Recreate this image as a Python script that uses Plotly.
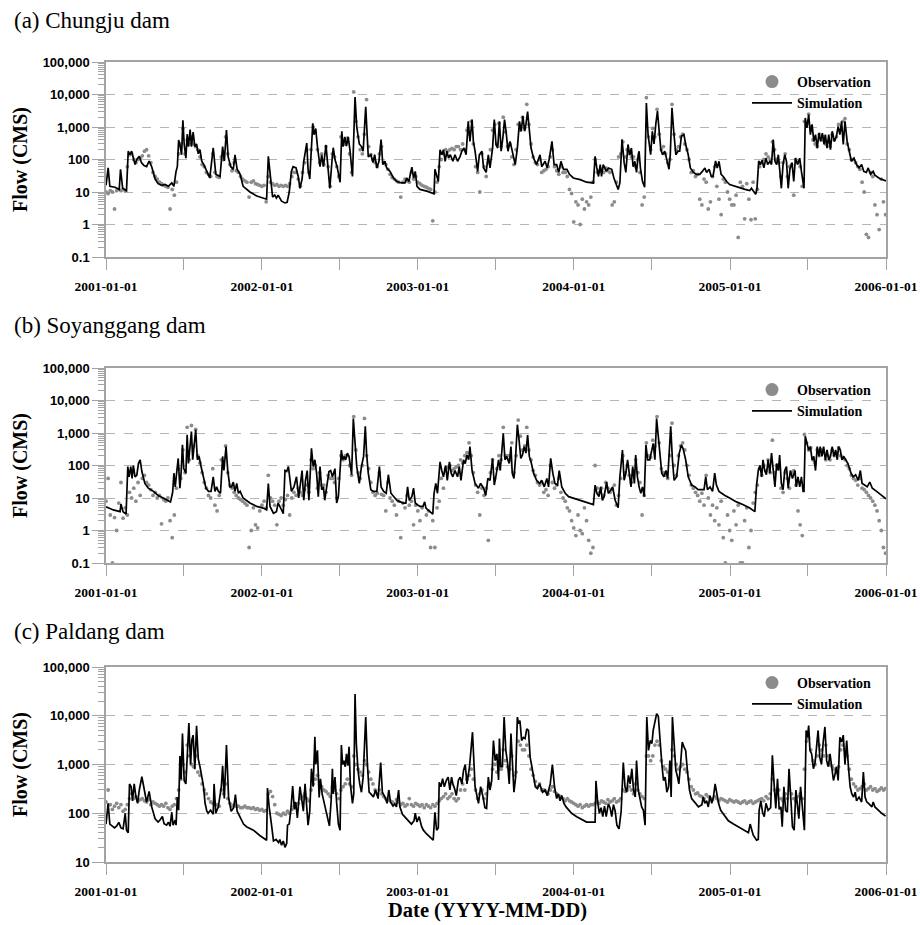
import math
import pandas as pd
import plotly.graph_objects as go

START = pd.Timestamp("2001-01-01")
END = pd.Timestamp("2006-01-01")
OBS_STEP_DAYS = 5  # observed flows listed every 5 days from START

# ---------------- (a) Chungju dam ----------------
# simulated flow: (days since 2001-01-01, flow in CMS)
chungju_sim = [
    (0, 16), (5, 55), (9, 15), (21, 14), (31, 12), (34, 50), (39, 13), (48, 11), (52, 180), (56, 140),
    (60, 180), (64, 110), (68, 70), (72, 100), (78, 125), (83, 80), (89, 65), (95, 60), (101, 90), (107, 60),
    (115, 25), (122, 18), (130, 16), (138, 17), (146, 15), (154, 19), (159, 15), (164, 43), (167, 60), (170, 400),
    (173, 280), (177, 140), (180, 1600), (183, 300), (187, 110), (190, 600), (193, 250), (197, 830), (200, 250), (204, 700),
    (208, 250), (212, 300), (216, 150), (220, 200), (224, 90), (229, 70), (236, 43), (243, 27), (251, 230), (257, 35),
    (267, 30), (273, 250), (277, 90), (282, 800), (286, 120), (292, 60), (298, 50), (302, 140), (307, 50), (314, 35),
    (321, 15), (337, 10), (353, 7.5), (368, 6.5), (376, 6), (380, 125), (385, 35), (390, 7), (395, 8), (399, 6.5),
    (403, 8), (411, 5.2), (419, 4.6), (424, 4.8), (429, 10), (434, 43), (438, 60), (445, 55), (450, 30), (454, 13),
    (459, 25), (463, 90), (470, 320), (473, 50), (477, 25), (484, 1300), (487, 580), (491, 900), (495, 250), (501, 60),
    (505, 140), (509, 60), (515, 280), (519, 60), (524, 13), (530, 130), (532, 230), (536, 100), (541, 60), (548, 20),
    (552, 740), (555, 250), (559, 500), (563, 260), (567, 500), (571, 200), (577, 30), (583, 8300), (587, 1000), (593, 300),
    (598, 250), (602, 180), (608, 4200), (614, 120), (620, 140), (625, 80), (629, 140), (634, 55), (639, 88), (644, 410),
    (648, 70), (653, 88), (657, 55), (665, 43), (673, 27), (681, 21), (692, 19), (700, 19), (704, 27), (709, 21),
    (716, 58), (720, 27), (724, 43), (728, 15), (735, 12), (751, 10.6), (763, 9.5), (768, 8.8), (770, 50), (774, 35),
    (778, 21), (782, 200), (786, 140), (790, 200), (794, 88), (798, 180), (802, 110), (806, 140), (812, 88), (817, 140),
    (823, 88), (829, 125), (833, 180), (838, 225), (843, 140), (848, 1500), (852, 360), (857, 1700), (860, 360), (864, 180),
    (870, 43), (874, 140), (880, 180), (884, 55), (890, 40), (895, 140), (899, 55), (905, 225), (909, 1700), (913, 290),
    (917, 225), (921, 1500), (925, 180), (929, 460), (933, 1700), (937, 650), (941, 180), (946, 360), (952, 140), (958, 70),
    (963, 225), (968, 1500), (972, 740), (976, 2150), (980, 740), (983, 1180), (987, 3000), (991, 740), (995, 225), (1001, 110),
    (1008, 70), (1016, 140), (1020, 60), (1028, 88), (1033, 55), (1038, 110), (1044, 360), (1049, 70), (1055, 70), (1060, 40),
    (1065, 88), (1071, 50), (1079, 50), (1085, 35), (1094, 27), (1110, 24), (1125, 20), (1141, 19), (1145, 125), (1149, 55),
    (1153, 30), (1157, 70), (1160, 30), (1164, 70), (1171, 43), (1176, 55), (1184, 50), (1189, 27), (1199, 12), (1203, 19),
    (1208, 420), (1213, 80), (1217, 40), (1222, 290), (1226, 140), (1230, 225), (1234, 60), (1238, 88), (1242, 40), (1246, 140),
    (1248, 180), (1251, 55), (1256, 21), (1261, 14), (1265, 5500), (1269, 580), (1275, 140), (1279, 740), (1283, 300), (1287, 1200),
    (1291, 3100), (1295, 740), (1299, 200), (1303, 140), (1308, 180), (1312, 110), (1318, 50), (1321, 140), (1325, 3900), (1329, 740),
    (1334, 140), (1339, 180), (1343, 180), (1347, 520), (1353, 580), (1357, 290), (1363, 140), (1368, 55), (1375, 40), (1382, 35),
    (1390, 35), (1396, 43), (1402, 55), (1406, 40), (1412, 50), (1417, 30), (1421, 30), (1427, 90), (1431, 55), (1435, 88),
    (1440, 35), (1445, 30), (1453, 21), (1460, 17), (1472, 15), (1484, 13), (1496, 12), (1507, 11), (1511, 13), (1515, 11),
    (1521, 8.5), (1524, 13), (1528, 90), (1532, 70), (1536, 95), (1540, 55), (1545, 110), (1549, 70), (1554, 88), (1558, 70),
    (1562, 410), (1566, 88), (1570, 70), (1574, 140), (1578, 43), (1581, 13), (1585, 70), (1589, 140), (1593, 88), (1597, 13),
    (1601, 50), (1606, 80), (1610, 21), (1614, 110), (1619, 70), (1624, 110), (1628, 43), (1632, 17), (1634, 13), (1637, 1900),
    (1641, 940), (1645, 2400), (1649, 580), (1653, 1200), (1657, 360), (1661, 580), (1665, 225), (1669, 650), (1673, 360), (1677, 650),
    (1681, 290), (1684, 580), (1688, 225), (1692, 580), (1696, 200), (1700, 740), (1705, 360), (1710, 520), (1714, 1050), (1718, 580),
    (1722, 1500), (1726, 290), (1730, 1500), (1735, 360), (1740, 180), (1745, 88), (1751, 110), (1757, 70), (1763, 55), (1769, 70),
    (1774, 43), (1780, 40), (1784, 55), (1790, 35), (1796, 43), (1800, 33), (1811, 26), (1823, 23), (1826, 22),
]
chungju_obs_flow = [
    10, 9, 11, 10, 3, 11, 12, 11, 12, 11, 60, 140, 150, 100, 80, 100, 110, 130, 180, 200,
    130, 80, 40, 30, 25, 20, 18, 16, 15, 14, 3, 12, 8, 20, 150, 300, 900, 150, 400, 300,
    500, 300, 250, 200, 120, 70, 60, 40, 35, 30, 150, 40, 30, 28, 120, 100, 500, 150, 70, 45,
    80, 45, 40, 30, 25, 22, 20, 7, 20, 22, 18, 17, 16, 15, 16, 5, 30, 20, 18, 16,
    17, 15, 16, 15, 16, 15, 18, 30, 40, 40, 25, 15, 40, 80, 200, 40, 200, 1000, 700, 200,
    80, 150, 70, 250, 60, 15, 150, 120, 60, 30, 500, 300, 300, 450, 150, 40, 12000, 1500, 500, 200,
    150, 600, 7000, 250, 140, 100, 80, 60, 150, 250, 80, 70, 50, 35, 28, 25, 22, 20, 7, 20,
    25, 22, 20, 40, 25, 30, 20, 18, 16, 15, 14, 13, 12, 1.3, 10, 20, 60, 100, 150, 200,
    180, 200, 220, 200, 250, 250, 200, 300, 200, 800, 600, 1500, 300, 60, 40, 10, 150, 60, 30, 80,
    200, 800, 1200, 300, 1300, 250, 2000, 700, 250, 300, 120, 70, 200, 1200, 800, 2000, 900, 5000, 1200, 300,
    120, 80, 70, 100, 40, 45, 50, 60, 120, 200, 60, 45, 35, 60, 40, 40, 30, 12, 9, 1.2,
    5, 4, 1.0, 6, 3, 5, 4, 7, 20, 100, 40, 45, 50, 40, 55, 45, 40, 4, 5, 20,
    120, 150, 350, 120, 200, 150, 120, 120, 60, 100, 40, 4, 7, 8000, 500, 200, 900, 500, 3500, 600,
    200, 250, 150, 80, 100, 5000, 600, 200, 250, 500, 600, 300, 200, 100, 40, 45, 30, 35, 6, 4,
    25, 20, 3, 5, 30, 60, 15, 6, 2, 25, 20, 10, 6, 4, 4, 8, 0.4, 20, 15, 1.5,
    18, 6, 1.4, 20, 1.5, 12, 60, 80, 100, 150, 120, 100, 350, 200, 100, 80, 30, 80, 150, 30,
    60, 70, 8, 100, 80, 60, 15, 1500, 1200, 2500, 1000, 400, 300, 250, 600, 400, 500, 300, 350, 250,
    600, 400, 500, 1200, 800, 1500, 1800, 300, 200, 100, 100, 80, 60, 50, 20, 10, 0.5, 0.4, 40, 30,
    4, 2, 0.7, 25, 5, 2,
]

# ---------------- (b) Soyanggang dam ----------------
soyang_sim = [
    (0, 5.4), (17, 4.3), (33, 3.8), (35, 6.5), (40, 3.8), (47, 3.2), (51, 93), (54, 45), (58, 93), (61, 40),
    (64, 100), (68, 45), (72, 50), (76, 115), (80, 150), (84, 65), (91, 28), (99, 20), (111, 16), (122, 12),
    (134, 10), (146, 8.5), (151, 7.5), (156, 15), (159, 58), (162, 22), (165, 45), (169, 165), (173, 20), (176, 65),
    (179, 430), (182, 80), (187, 58), (190, 880), (193, 115), (197, 480), (200, 1100), (203, 150), (207, 690), (210, 1250),
    (214, 150), (218, 190), (222, 100), (228, 45), (234, 20), (240, 16), (246, 16), (251, 45), (255, 16), (259, 22),
    (263, 16), (268, 14), (273, 190), (276, 70), (281, 380), (285, 70), (290, 22), (294, 22), (298, 31), (302, 16),
    (306, 28), (310, 14), (314, 16), (321, 10), (329, 8.5), (337, 7), (353, 5.5), (368, 4.9), (376, 4.3), (380, 28),
    (384, 5.5), (392, 3.4), (399, 3.8), (403, 7), (411, 4.3), (415, 3.3), (419, 70), (423, 65), (427, 93), (430, 45),
    (434, 16), (440, 22), (446, 45), (451, 10), (454, 22), (459, 70), (463, 8.5), (467, 35), (471, 70), (475, 8.5),
    (481, 340), (485, 93), (489, 150), (493, 58), (497, 11), (501, 93), (505, 18), (509, 22), (512, 8.5), (516, 20),
    (522, 65), (526, 70), (530, 45), (536, 80), (540, 7), (544, 11), (548, 58), (551, 300), (554, 150), (557, 190),
    (561, 150), (565, 240), (569, 190), (575, 52), (579, 2800), (583, 380), (587, 93), (593, 28), (598, 93), (603, 190),
    (607, 1600), (610, 240), (614, 58), (620, 18), (626, 16), (634, 16), (640, 93), (644, 22), (650, 16), (656, 14),
    (661, 52), (667, 14), (673, 11), (681, 8.5), (689, 7.6), (696, 7), (702, 7), (706, 22), (710, 8.5), (716, 11),
    (720, 20), (724, 7), (729, 6.2), (735, 5.5), (742, 5.5), (746, 7.6), (749, 4.9), (759, 3.8), (765, 3.2), (768, 14),
    (772, 28), (776, 14), (782, 130), (786, 70), (790, 45), (795, 100), (799, 35), (804, 130), (808, 58), (812, 45),
    (817, 70), (823, 45), (827, 93), (831, 35), (837, 150), (841, 115), (845, 210), (849, 150), (852, 380), (857, 70),
    (864, 28), (872, 20), (877, 28), (884, 20), (889, 12), (894, 40), (899, 35), (905, 165), (909, 25), (915, 70),
    (919, 150), (923, 70), (927, 240), (930, 980), (934, 150), (938, 190), (944, 115), (948, 380), (951, 58), (955, 40),
    (959, 190), (963, 1800), (967, 610), (971, 165), (975, 210), (979, 380), (983, 240), (987, 870), (991, 190), (995, 130),
    (1001, 58), (1008, 35), (1015, 28), (1020, 35), (1026, 22), (1032, 40), (1036, 22), (1041, 165), (1046, 58), (1051, 28),
    (1057, 25), (1061, 70), (1067, 22), (1075, 14), (1083, 11), (1094, 10), (1110, 8.5), (1125, 7.3), (1141, 6.3), (1145, 25),
    (1149, 14), (1154, 11), (1158, 22), (1162, 8.5), (1166, 11), (1172, 31), (1176, 14), (1182, 18), (1186, 22), (1192, 8.5),
    (1199, 5), (1203, 45), (1209, 300), (1213, 35), (1217, 58), (1221, 150), (1225, 45), (1229, 22), (1233, 93), (1237, 28),
    (1240, 210), (1244, 45), (1248, 22), (1252, 14), (1256, 22), (1260, 11), (1264, 430), (1268, 150), (1273, 150), (1277, 300),
    (1281, 480), (1285, 150), (1289, 2800), (1293, 770), (1297, 150), (1301, 58), (1306, 45), (1311, 70), (1315, 40), (1318, 150),
    (1322, 1600), (1326, 150), (1330, 35), (1336, 45), (1342, 240), (1347, 430), (1351, 330), (1357, 150), (1363, 45), (1371, 25),
    (1379, 22), (1386, 18), (1394, 18), (1400, 18), (1404, 45), (1408, 18), (1414, 22), (1420, 16), (1425, 58), (1429, 25),
    (1435, 16), (1441, 14), (1449, 12), (1460, 10), (1476, 7.6), (1492, 6.2), (1507, 4.9), (1519, 3.8), (1523, 25), (1527, 70),
    (1531, 100), (1535, 45), (1538, 150), (1542, 70), (1546, 52), (1550, 150), (1554, 58), (1558, 240), (1562, 70), (1566, 22),
    (1570, 115), (1574, 70), (1577, 210), (1581, 28), (1585, 18), (1589, 70), (1593, 93), (1597, 20), (1602, 70), (1607, 40),
    (1613, 70), (1616, 22), (1620, 45), (1624, 22), (1628, 45), (1632, 16), (1634, 16), (1637, 800), (1641, 480), (1645, 300),
    (1649, 380), (1653, 150), (1657, 190), (1661, 70), (1665, 380), (1669, 190), (1672, 380), (1676, 190), (1680, 380), (1684, 150),
    (1688, 300), (1692, 150), (1696, 190), (1700, 380), (1704, 190), (1708, 300), (1712, 150), (1715, 380), (1719, 300), (1723, 150),
    (1727, 190), (1731, 150), (1737, 115), (1744, 58), (1749, 45), (1755, 52), (1761, 35), (1766, 70), (1770, 28), (1776, 25),
    (1782, 22), (1788, 31), (1794, 20), (1804, 16), (1815, 12), (1826, 9.5),
]
soyang_obs_flow = [
    8, 40, 3, 0.1, 2.5, 1, 7, 30, 2.4, 5, 3, 15, 10, 20, 8, 30, 12, 40, 50, 30,
    25, 18, 12, 15, 10, 12, 1.6, 9, 8, 10, 2, 0.6, 3, 20, 80, 40, 300, 60, 1500, 150,
    1700, 400, 1300, 200, 120, 60, 30, 20, 12, 10, 80, 6, 4, 12, 150, 100, 400, 60, 25, 20,
    15, 12, 10, 9, 8, 7, 6, 0.3, 1, 5, 1.5, 1.2, 4, 6, 8, 5, 50, 10, 8, 6,
    1.5, 8, 10, 6, 9, 12, 3, 10, 15, 12, 20, 15, 12, 18, 25, 15, 150, 80, 100, 20,
    60, 25, 25, 15, 50, 40, 40, 30, 10, 40, 200, 150, 200, 200, 100, 50, 3200, 300, 60, 40,
    100, 2800, 200, 80, 30, 15, 12, 14, 60, 13, 12, 4, 30, 10, 8, 6, 3, 8, 0.6, 7,
    5, 12, 6, 8, 1.5, 6, 4, 2, 5, 0.6, 3, 4, 0.3, 2, 0.3, 5, 8, 40, 20, 80,
    90, 100, 70, 80, 90, 100, 150, 120, 200, 250, 500, 200, 60, 25, 15, 3, 20, 12, 20, 0.5,
    60, 150, 40, 80, 200, 150, 1500, 200, 200, 150, 500, 60, 200, 2500, 800, 300, 400, 1500, 300, 150,
    70, 50, 30, 25, 30, 15, 18, 12, 100, 30, 20, 25, 40, 15, 10, 8, 5, 4, 2, 1.2,
    0.7, 3, 1, 0.8, 5, 2, 0.5, 0.2, 0.3, 100, 20, 15, 20, 12, 30, 20, 15, 18, 25, 6,
    12, 40, 200, 60, 100, 50, 30, 70, 150, 60, 30, 3, 12, 500, 200, 180, 600, 400, 3200, 500,
    80, 60, 50, 40, 200, 2000, 100, 50, 200, 400, 500, 300, 100, 50, 25, 20, 15, 12, 8, 14,
    6, 50, 10, 3, 6, 2, 5, 1.5, 8, 0.6, 0.1, 3, 1, 0.5, 4, 1.5, 6, 0.1, 0.1, 2,
    5, 0.3, 1, 7, 15, 25, 80, 50, 100, 70, 150, 60, 600, 60, 100, 80, 20, 15, 60, 40,
    20, 60, 70, 25, 4, 1.5, 0.7, 900, 500, 300, 350, 150, 120, 300, 200, 300, 250, 150, 200, 150,
    300, 200, 250, 350, 200, 180, 150, 100, 80, 50, 40, 35, 25, 40, 20, 18, 15, 12, 10, 8,
    6, 4, 2, 1, 0.3, 0.2,
]

# ---------------- (c) Paldang dam ----------------
paldang_sim = [
    (0, 60), (5, 160), (9, 60), (15, 55), (20, 50), (25, 55), (30, 65), (35, 50), (40, 48), (45, 100),
    (48, 45), (52, 40), (55, 400), (59, 350), (62, 180), (66, 400), (70, 220), (74, 160), (78, 300), (84, 560),
    (88, 350), (92, 200), (95, 170), (101, 280), (107, 135), (115, 77), (122, 66), (126, 72), (132, 86), (136, 61),
    (142, 57), (146, 66), (150, 54), (154, 105), (157, 57), (162, 72), (164, 57), (167, 215), (170, 115), (173, 1500),
    (176, 500), (179, 4300), (183, 470), (187, 400), (191, 1650), (194, 7100), (198, 1000), (201, 3200), (204, 4000), (208, 800),
    (212, 6200), (216, 1300), (220, 900), (224, 600), (228, 370), (232, 160), (236, 110), (239, 100), (245, 115), (251, 95),
    (253, 400), (257, 100), (263, 135), (270, 350), (273, 940), (277, 200), (282, 2500), (287, 210), (293, 110), (299, 130),
    (303, 240), (307, 110), (314, 80), (322, 60), (329, 53), (345, 45), (360, 35), (376, 28), (378, 330), (382, 135),
    (388, 53), (392, 27), (398, 29), (404, 25), (407, 29), (411, 22), (415, 27), (419, 20), (423, 24), (425, 57),
    (429, 60), (433, 125), (437, 360), (441, 120), (444, 170), (448, 80), (454, 350), (458, 200), (462, 110), (466, 400),
    (469, 200), (473, 57), (477, 110), (481, 820), (485, 350), (489, 3700), (491, 1000), (495, 1950), (499, 210), (502, 510),
    (506, 250), (510, 170), (514, 130), (518, 80), (523, 55), (527, 180), (530, 820), (532, 250), (536, 550), (540, 160),
    (544, 60), (548, 45), (551, 2500), (554, 1000), (557, 1200), (560, 900), (563, 1650), (566, 950), (569, 2300), (572, 400),
    (577, 160), (580, 250), (583, 28000), (586, 2700), (590, 760), (594, 400), (598, 270), (602, 550), (608, 9400), (612, 1000),
    (616, 270), (620, 250), (626, 215), (631, 300), (637, 200), (643, 1100), (647, 270), (653, 215), (658, 160), (662, 300),
    (666, 170), (672, 140), (676, 155), (680, 135), (685, 300), (688, 135), (694, 95), (699, 85), (707, 70), (715, 60),
    (721, 70), (724, 100), (728, 66), (733, 85), (739, 53), (743, 45), (750, 38), (758, 32), (766, 28), (770, 105),
    (774, 45), (778, 50), (780, 430), (784, 350), (788, 510), (792, 350), (797, 480), (801, 550), (805, 300), (809, 550),
    (812, 400), (816, 320), (820, 230), (825, 480), (829, 550), (833, 400), (837, 760), (841, 1000), (845, 400), (851, 900),
    (858, 4600), (864, 350), (872, 160), (877, 350), (882, 230), (887, 130), (891, 125), (895, 550), (899, 300), (903, 480),
    (907, 3100), (911, 1200), (915, 1650), (919, 480), (921, 3400), (924, 900), (928, 900), (932, 9400), (936, 1950), (940, 1100),
    (944, 400), (948, 4300), (952, 900), (955, 270), (959, 550), (963, 9400), (966, 6900), (969, 8000), (973, 3100), (977, 3600),
    (981, 3400), (985, 5400), (989, 5000), (993, 1400), (997, 900), (1001, 550), (1005, 350), (1010, 320), (1015, 400), (1019, 320),
    (1022, 270), (1028, 300), (1033, 230), (1040, 400), (1045, 1000), (1050, 350), (1055, 200), (1059, 250), (1063, 180), (1067, 230),
    (1072, 160), (1077, 135), (1083, 115), (1090, 100), (1102, 85), (1114, 75), (1125, 66), (1137, 66), (1145, 66), (1147, 460),
    (1151, 170), (1155, 100), (1159, 130), (1163, 85), (1167, 140), (1171, 85), (1176, 155), (1180, 130), (1184, 85), (1188, 150),
    (1192, 110), (1196, 57), (1201, 48), (1206, 110), (1211, 1100), (1215, 350), (1219, 270), (1223, 600), (1227, 400), (1231, 820),
    (1235, 300), (1239, 215), (1242, 1200), (1246, 300), (1250, 200), (1254, 135), (1258, 115), (1262, 57), (1266, 9400), (1270, 1950),
    (1274, 3100), (1278, 2700), (1281, 5000), (1285, 8000), (1289, 11000), (1293, 9800), (1297, 2700), (1301, 1100), (1305, 470), (1309, 550),
    (1313, 270), (1317, 350), (1320, 1200), (1323, 215), (1326, 9400), (1330, 3100), (1334, 760), (1338, 550), (1341, 400), (1345, 1000),
    (1349, 2900), (1353, 2300), (1357, 1950), (1361, 760), (1366, 300), (1371, 200), (1379, 160), (1387, 135), (1395, 150), (1398, 215),
    (1402, 160), (1406, 180), (1410, 135), (1414, 230), (1418, 160), (1422, 215), (1426, 400), (1430, 250), (1434, 160), (1439, 115),
    (1449, 90), (1457, 70), (1469, 60), (1480, 53), (1492, 45), (1504, 40), (1508, 60), (1512, 45), (1515, 36), (1523, 28),
    (1527, 29), (1529, 115), (1533, 180), (1537, 105), (1541, 85), (1545, 160), (1550, 115), (1556, 130), (1560, 1550), (1564, 400),
    (1568, 125), (1572, 510), (1576, 120), (1580, 135), (1583, 53), (1587, 350), (1591, 115), (1595, 105), (1599, 820), (1603, 215),
    (1607, 53), (1611, 45), (1615, 300), (1619, 135), (1622, 77), (1626, 350), (1630, 115), (1635, 45), (1639, 5000), (1642, 3600),
    (1645, 6300), (1648, 1950), (1652, 1650), (1656, 820), (1660, 1100), (1664, 2500), (1667, 5000), (1671, 1400), (1675, 1000), (1679, 2900),
    (1683, 5900), (1687, 1200), (1691, 900), (1695, 1650), (1699, 760), (1703, 470), (1707, 650), (1710, 900), (1714, 470), (1718, 3600),
    (1722, 2900), (1726, 4000), (1730, 1000), (1734, 3100), (1738, 900), (1742, 350), (1746, 250), (1750, 215), (1754, 270), (1757, 180),
    (1763, 215), (1769, 170), (1773, 700), (1777, 215), (1781, 170), (1785, 160), (1793, 135), (1796, 170), (1800, 135), (1808, 115),
    (1816, 100), (1825, 87),
]
paldang_obs_flow = [
    170, 300, 150, 120, 140, 160, 130, 150, 110, 120, 150, 200, 250, 200, 220, 180, 190, 200, 180, 170,
    190, 150, 170, 160, 150, 140, 150, 140, 160, 130, 120, 140, 150, 200, 300, 500, 1000, 700, 2500, 1500,
    1000, 900, 1500, 700, 600, 400, 300, 250, 200, 170, 160, 150, 150, 140, 300, 250, 400, 200, 160, 140,
    150, 140, 140, 130, 130, 140, 130, 130, 125, 130, 120, 125, 115, 120, 110, 115, 250, 280, 220, 150,
    100, 95, 90, 100, 95, 110, 100, 120, 140, 150, 160, 200, 220, 250, 200, 180, 300, 400, 500, 600,
    400, 350, 300, 280, 250, 220, 350, 300, 250, 200, 300, 350, 400, 500, 400, 350, 1500, 1000, 800, 700,
    600, 1200, 1000, 700, 500, 400, 300, 250, 300, 250, 220, 200, 190, 180, 170, 160, 190, 170, 150, 160,
    140, 150, 200, 150, 140, 160, 150, 140, 150, 130, 150, 140, 130, 150, 140, 160, 180, 200, 220, 250,
    200, 220, 250, 200, 180, 200, 300, 400, 300, 500, 600, 800, 500, 300, 200, 250, 300, 200, 250, 350,
    400, 800, 1000, 700, 1500, 800, 2000, 1200, 900, 800, 1500, 600, 700, 3000, 2500, 2000, 2000, 2500, 1500, 800,
    600, 450, 350, 400, 300, 300, 280, 250, 300, 350, 280, 250, 230, 220, 200, 180, 200, 180, 170, 160,
    150, 140, 150, 130, 140, 150, 140, 150, 150, 160, 170, 160, 180, 170, 160, 190, 170, 180, 200, 170,
    180, 200, 300, 280, 300, 350, 300, 250, 400, 300, 250, 220, 200, 1500, 1500, 1200, 1500, 2500, 3000, 2500,
    1200, 900, 800, 700, 600, 2000, 1500, 1000, 800, 900, 1000, 800, 700, 500, 350, 300, 250, 260, 230, 220,
    200, 240, 220, 200, 190, 220, 200, 180, 200, 190, 180, 170, 190, 180, 170, 180, 170, 160, 170, 180,
    160, 170, 180, 160, 170, 180, 190, 200, 180, 220, 200, 250, 500, 300, 250, 300, 200, 180, 250, 200,
    300, 250, 200, 180, 220, 250, 200, 800, 3000, 3500, 2000, 1200, 1000, 1500, 2500, 2000, 1500, 2500, 1500, 1000,
    900, 800, 700, 900, 2000, 2500, 2000, 1500, 800, 500, 400, 350, 300, 320, 350, 400, 300, 320, 350, 300,
    320, 280, 300, 330, 300, 320,
]

# ---------------- figure styling ----------------
FIG_W, FIG_H = 920, 925
X_LEFT, X_RIGHT = 106, 886
OBS_COLOR = "#8c8c8c"
AXIS_COLOR = "#a3a3a3"
GRID_COLOR = "#b5b5b5"
SERIF = "Liberation Serif"
SANS = "Liberation Sans"

panels = [
    dict(title="(a) Chungju dam", sim=chungju_sim, obs=chungju_obs_flow,
         top=62, bottom=257, log_range=(-1, 5), title_y=21, legend_top=66),
    dict(title="(b) Soyanggang dam", sim=soyang_sim, obs=soyang_obs_flow,
         top=368, bottom=563, log_range=(-1, 5), title_y=326, legend_top=374),
    dict(title="(c) Paldang dam", sim=paldang_sim, obs=paldang_obs_flow,
         top=667, bottom=862, log_range=(1, 5), title_y=631, legend_top=667),
]

decade_values = [0.1, 1, 10, 100, 1000, 10000, 100000]
half_year_ticks = pd.date_range(START, END, freq="6MS")
x_ticktext = [f"<b>{d:%Y-%m-%d}</b>" if d.month == 1 else "" for d in half_year_ticks]

fig = go.Figure()
layout = dict(annotations=[])

for i, p in enumerate(panels, start=1):
    sfx = "" if i == 1 else str(i)
    xa, ya = f"x{sfx}", f"y{sfx}"
    legend_name = "legend" if i == 1 else f"legend{i}"

    obs_dates = pd.date_range(START, periods=len(p["obs"]), freq=f"{OBS_STEP_DAYS}D")
    sim_days, sim_flow = zip(*p["sim"])
    sim_dates = START + pd.to_timedelta(list(sim_days), unit="D")

    fig.add_trace(go.Scatter(
        x=obs_dates, y=p["obs"], mode="markers",
        marker=dict(size=3.8, color=OBS_COLOR, line=dict(width=0)),
        xaxis=xa, yaxis=ya, showlegend=False, name="Observation"))
    fig.add_trace(go.Scatter(
        x=sim_dates, y=list(sim_flow), mode="lines",
        line=dict(color="black", width=1.7),
        xaxis=xa, yaxis=ya, showlegend=False, name="Simulation"))
    # legend keys
    fig.add_trace(go.Scatter(
        x=[None], y=[None], mode="markers", marker=dict(size=13, color=OBS_COLOR),
        name="<b>Observation</b>", legend=legend_name, xaxis=xa, yaxis=ya))
    fig.add_trace(go.Scatter(
        x=[None], y=[None], mode="lines", line=dict(color="black", width=1.7),
        name="<b>Simulation</b>", legend=legend_name, xaxis=xa, yaxis=ya))

    lo, hi = p["log_range"]
    yvals = [v for v in decade_values if lo <= round(math.log10(v)) <= hi]
    ytext = [f"<b>{v:,}</b>" if v >= 1 else f"<b>{v}</b>" for v in yvals]
    minor_vals = [k * 10 ** e for e in range(lo, hi) for k in range(2, 10)]

    layout[f"xaxis{sfx}"] = dict(
        type="date", range=[START, END], anchor=ya, automargin=False,
        domain=[X_LEFT / FIG_W, X_RIGHT / FIG_W],
        tickmode="array", tickvals=half_year_ticks, ticktext=x_ticktext,
        ticks="outside", ticklen=11, tickwidth=1, tickcolor=AXIS_COLOR,
        ticklabelstandoff=5,
        tickfont=dict(family=SERIF, size=13.5, color="black"),
        showgrid=False, zeroline=False,
        showline=True, linecolor=AXIS_COLOR, linewidth=1.5, mirror=True,
    )
    layout[f"yaxis{sfx}"] = dict(
        type="log", range=[lo, hi], anchor=xa, automargin=False,
        domain=[1 - p["bottom"] / FIG_H, 1 - p["top"] / FIG_H],
        tickmode="array", tickvals=yvals, ticktext=ytext,
        ticks="outside", ticklen=12, tickwidth=1, tickcolor=AXIS_COLOR,
        tickfont=dict(family=SANS, size=13, color="black"),
        minor=dict(tickmode="array", tickvals=minor_vals, ticks="outside",
                   ticklen=6, tickwidth=1, tickcolor=AXIS_COLOR, showgrid=False),
        showgrid=True, gridcolor=GRID_COLOR, griddash="dash", gridwidth=1,
        zeroline=False,
        showline=True, linecolor=AXIS_COLOR, linewidth=1.5, mirror=True,
        title=dict(text="<b>Flow (CMS)</b>", font=dict(family=SERIF, size=20, color="black"),
                   standoff=10),
    )
    layout[legend_name] = dict(
        x=747 / FIG_W, y=1 - p["legend_top"] / FIG_H, xanchor="left", yanchor="top",
        bgcolor="rgba(0,0,0,0)", borderwidth=0, itemwidth=40,
        font=dict(family=SERIF, size=14, color="black"),
    )
    layout["annotations"].append(dict(
        text=p["title"], xref="paper", yref="paper",
        x=12 / FIG_W, y=1 - p["title_y"] / FIG_H, xanchor="left", yanchor="middle",
        showarrow=False, font=dict(family=SERIF, size=23, color="black")))

layout["annotations"].append(dict(
    text="<b>Date (YYYY-MM-DD)</b>", xref="paper", yref="paper",
    x=487 / FIG_W, y=1 - 910 / FIG_H, xanchor="center", yanchor="middle",
    showarrow=False, font=dict(family=SERIF, size=20.5, color="black")))

fig.update_layout(
    width=FIG_W, height=FIG_H,
    margin=dict(l=0, r=0, t=0, b=0),
    paper_bgcolor="white", plot_bgcolor="white",
    **layout,
)

fig.write_html("out.html")
